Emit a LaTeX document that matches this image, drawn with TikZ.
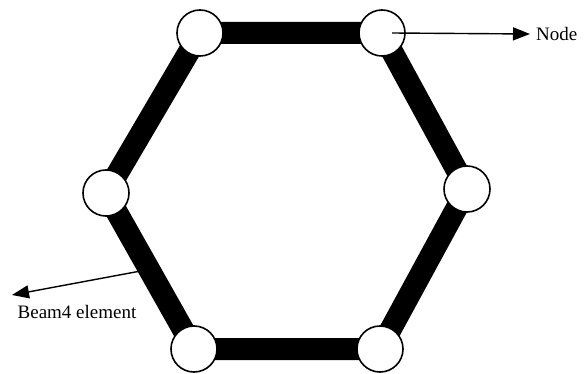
\documentclass[tikz,border=0pt]{standalone}
\usepackage{fontspec}
\setmainfont{Liberation Serif}
\usetikzlibrary{arrows.meta,calc}
\begin{document}
\begin{tikzpicture}[x=1pt,y=-1pt,
  beam/.style={line width=22pt},
  joint/.style={circle,draw,fill=white,line width=1.6pt,minimum size=46pt,inner sep=0pt},
  pointer/.style={line width=1.4pt,-{Triangle[length=17pt,width=13pt]}},
  lbl/.style={font=\fontsize{19}{21}\selectfont,inner sep=0pt}]
\useasboundingbox (0,0) rectangle (584,374);
\coordinate (TLc) at (200,33);
\coordinate (TRc) at (382,33);
\coordinate (Rc) at (467,189);
\coordinate (BRc) at (380,349);
\coordinate (BLc) at (194,349);
\coordinate (Lc) at (106,193);
% pointer to beam (drawn under the beam)
\coordinate (bp) at ($(Lc)!0.49!(BLc)$);
\node[lbl,anchor=north] (beamlbl) at (77,305) {Beam4 element};
\coordinate (btip) at (12,295);
\draw[pointer] (bp) -- (btip);
% beams
\draw[beam] (TLc) -- (TRc) -- (Rc) -- (BRc) -- (BLc) -- (Lc) -- cycle;
% joints
\node[joint] (TL) at (TLc) {};
\node[joint] (TR) at (TRc) {};
\node[joint] (R) at (Rc) {};
\node[joint] (BR) at (BRc) {};
\node[joint] (BL) at (BLc) {};
\node[joint] (L) at (Lc) {};
% node label
\node[lbl,anchor=west] (nodelbl) at (536,34) {Node};
\coordinate (ns) at ($(TR.center)+(10,0)$);
\draw[pointer] (ns) -- (nodelbl.west -| 530,0);
\end{tikzpicture}
\end{document}
